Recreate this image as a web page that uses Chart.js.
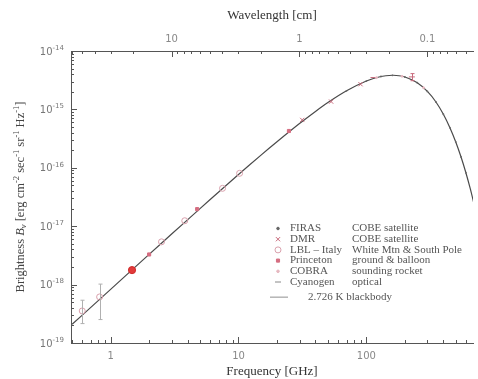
<!DOCTYPE html>
<html>
<head>
<meta charset="utf-8">
<script src="https://cdn.jsdelivr.net/npm/chart.js@4/dist/chart.umd.min.js"></script>
<style>
  html, body { margin: 0; padding: 0; background: #fff; }
</style>
</head>
<body>
<canvas id="cmbChart" width="478" height="379"></canvas>
<script>
// ============================
// data (frequency in GHz, brightness in erg cm^-2 sec^-1 sr^-1 Hz^-1)
// ============================
const bbFreq = [0.5, 0.7, 1, 1.5, 2, 3, 5, 7, 10, 15, 20, 30, 40, 50, 70, 100, 130, 160, 180, 200, 250, 300, 350, 400, 450, 500, 550, 600, 650, 700];
const bbBright = [2.09e-19, 4.08e-19, 8.30e-19, 1.86e-18, 3.29e-18, 7.34e-18, 2.00e-17, 3.86e-17, 7.66e-17, 1.65e-16, 2.79e-16, 5.72e-16, 9.23e-16, 1.31e-15, 2.08e-15, 3.06e-15, 3.66e-15, 3.84e-15, 3.77e-15, 3.59e-15, 2.86e-15, 2.03e-15, 1.34e-15, 8.26e-16, 4.87e-16, 2.77e-16, 1.53e-16, 8.23e-17, 4.34e-17, 2.25e-17];

const firasFreq = [70, 100, 130, 160, 200, 250, 300, 350, 400, 450, 500, 550, 600];
const firasBright = [2.08e-15, 3.06e-15, 3.66e-15, 3.84e-15, 3.59e-15, 2.86e-15, 2.03e-15, 1.34e-15, 8.26e-16, 4.87e-16, 2.77e-16, 1.53e-16, 8.23e-17];

const dmrFreq = [31.5, 53, 90];
const dmrBright = [6.6e-16, 1.36e-15, 2.70e-15];

const lblFreq = [0.6, 0.82, 2.5, 3.8, 7.5, 10.2];
const lblBright = [3.54e-19, 6.15e-19, 5.40e-18, 1.24e-17, 4.45e-17, 8.05e-17];
const lblErrLow = [2.15e-19, 2.52e-19, null, null, null, null];
const lblErrHigh = [5.4e-19, 1.02e-18, null, null, null, null];

const princetonFreq = [1.47, 2.0, 4.75, 24.8];
const princetonBright = [1.77e-18, 3.28e-18, 1.96e-17, 4.27e-16];

const cobraFreq = [120, 190, 280];
const cobraBright = [3.5e-15, 3.69e-15, 2.35e-15];

const cyanFreq = [113.6, 227];
const cyanBright = [3.51e-15, 3.6e-15];
const cyanErrLow = [null, 3.1e-15];
const cyanErrHigh = [null, 4.1e-15];

const freqLabels = [1, 10, 100];
const waveLabels = [10, 1, 0.1];   // cm
const yDecades = [-19, -18, -17, -16, -15, -14];

const legendNames = ["FIRAS", "DMR", "LBL – Italy", "Princeton", "COBRA", "Cyanogen"];
const legendSources = ["COBE satellite", "COBE satellite", "White Mtn & South Pole", "ground & balloon", "sounding rocket", "optical"];
const bbLabel = "2.726 K blackbody";

const C_CM_GHZ = 29.9792458;   // c in cm*GHz
const serif = "'Liberation Serif', 'DejaVu Serif', serif";
const sans = "'DejaVu Sans', sans-serif";

const pts = (xs, ys) => xs.map((x, i) => ({ x, y: ys[i] }));

// ============================
// helpers
// ============================
function drawRich(ctx, parts, x, y) {
  // parts: {t, size, dy, italic, fam}
  let total = 0;
  parts.forEach(p => {
    ctx.font = `${p.italic ? "italic " : ""}${p.size}px ${p.fam}`;
    p.w = ctx.measureText(p.t).width;
    total += p.w;
  });
  let cx = x - total / 2;
  parts.forEach(p => {
    ctx.font = `${p.italic ? "italic " : ""}${p.size}px ${p.fam}`;
    ctx.fillText(p.t, cx, y + (p.dy || 0));
    cx += p.w;
  });
}

const markerStyles = [
  { pointStyle: "circle", radius: 0.9, color: "#666", fill: "#666" },
  { pointStyle: "crossRot", radius: 3, color: "#c86a7c", fill: "#c86a7c" },
  { pointStyle: "circle", radius: 3, color: "#d9a0ac", fill: "rgba(255,255,255,0)" },
  { pointStyle: "rect", radius: 2.2, color: "#d56d80", fill: "#d56d80" },
  { pointStyle: "circle", radius: 1, color: "#e6b8c0", fill: "#e6b8c0" },
  { pointStyle: "line", radius: 3, color: "#888", fill: "#888" }
];

// ============================
// plugins
// ============================
const axisDecor = {
  id: "axisDecor",
  afterDraw(chart) {
    const { ctx, chartArea: a, scales } = chart;
    const xs = scales.x, ys = scales.y;
    ctx.save();
    ctx.strokeStyle = "#555";
    ctx.lineWidth = 1;
    ctx.beginPath();
    // bottom ticks (frequency)
    for (let e = -1; e <= 2; e++) {
      for (let d = 1; d <= 9; d++) {
        const v = d * Math.pow(10, e);
        if (v < xs.min || v > xs.max) continue;
        const px = Math.round(xs.getPixelForValue(v)) + 0.5;
        const len = d === 1 ? 6 : 3;
        ctx.moveTo(px, a.bottom);
        ctx.lineTo(px, a.bottom - len);
      }
    }
    // top ticks (wavelength)
    for (let e = -2; e <= 1; e++) {
      for (let d = 1; d <= 9; d++) {
        const f = C_CM_GHZ / (d * Math.pow(10, e));
        if (f < xs.min || f > xs.max) continue;
        const px = Math.round(xs.getPixelForValue(f)) + 0.5;
        const len = d === 1 ? 6 : 3;
        ctx.moveTo(px, a.top);
        ctx.lineTo(px, a.top + len);
      }
    }
    // left ticks (brightness)
    for (let e = -19; e <= -15; e++) {
      for (let d = 1; d <= 9; d++) {
        const v = d * Math.pow(10, e);
        const py = Math.round(ys.getPixelForValue(v)) + 0.5;
        const len = d === 1 ? 6 : 3;
        ctx.moveTo(a.left, py);
        ctx.lineTo(a.left + len, py);
      }
    }
    ctx.stroke();

    // y tick labels 10^n
    ctx.fillStyle = "#777";
    ctx.textBaseline = "middle";
    yDecades.forEach(e => {
      const py = ys.getPixelForValue(Math.pow(10, e));
      const sup = String(e);
      ctx.font = `7px ${sans}`;
      const sw = ctx.measureText(sup).width;
      ctx.font = `10px ${sans}`;
      const bw = ctx.measureText("10").width;
      const right = a.left - 7;
      ctx.fillText("10", right - sw - bw, py + 1);
      ctx.font = `7px ${sans}`;
      ctx.fillText(sup, right - sw, py - 3);
    });

    // y title
    ctx.save();
    ctx.translate(21, (a.top + a.bottom) / 2);
    ctx.rotate(-Math.PI / 2);
    ctx.fillStyle = "#444";
    const big = 12.5, small = 8.5;
    drawRich(ctx, [
      { t: "Brightness ", size: big, fam: serif },
      { t: "B", size: big, fam: serif, italic: true },
      { t: "ν", size: small, fam: serif, italic: true, dy: 3 },
      { t: " [erg cm", size: big, fam: serif },
      { t: "-2", size: small, fam: serif, dy: -4 },
      { t: " sec", size: big, fam: serif },
      { t: "-1", size: small, fam: serif, dy: -4 },
      { t: " sr", size: big, fam: serif },
      { t: "-1", size: small, fam: serif, dy: -4 },
      { t: " Hz", size: big, fam: serif },
      { t: "-1", size: small, fam: serif, dy: -4 },
      { t: "]", size: big, fam: serif }
    ], 0, 0);
    ctx.restore();
    ctx.restore();
  },
  afterDatasetsDraw(chart) {
    const { ctx, scales } = chart;
    const xs = scales.x, ys = scales.y;
    // error bars
    ctx.save();
    chart.data.datasets.forEach(ds => {
      if (!ds.errLow) return;
      ctx.strokeStyle = ds.errColor || "#aaa";
      ctx.lineWidth = 1;
      ds.data.forEach((p, i) => {
        if (ds.errLow[i] == null) return;
        const px = Math.round(xs.getPixelForValue(p.x)) + 0.5;
        const y1 = ys.getPixelForValue(ds.errLow[i]);
        const y2 = ys.getPixelForValue(ds.errHigh[i]);
        ctx.beginPath();
        ctx.moveTo(px, y1); ctx.lineTo(px, y2);
        ctx.moveTo(px - 2, y1); ctx.lineTo(px + 2, y1);
        ctx.moveTo(px - 2, y2); ctx.lineTo(px + 2, y2);
        ctx.stroke();
      });
    });
    ctx.restore();

    // legend
    ctx.save();
    const symX = 278, nameX = 290, srcX = 352, row0 = 228.5, rowH = 10.7;
    ctx.textBaseline = "middle";
    ctx.font = `11px ${serif}`;
    legendNames.forEach((name, i) => {
      const y = row0 + i * rowH;
      const m = markerStyles[i];
      ctx.strokeStyle = m.color;
      ctx.fillStyle = m.fill;
      ctx.lineWidth = 1;
      Chart.helpers.drawPoint(ctx, { pointStyle: m.pointStyle, radius: Math.max(m.radius, 1.3), rotation: 0, borderWidth: 1 }, symX, y);
      ctx.fillStyle = "#555";
      ctx.fillText(name, nameX, y);
      ctx.fillText(legendSources[i], srcX, y);
    });
    const by = row0 + 6 * rowH + 4.5;
    ctx.strokeStyle = "#b5b5b5";
    ctx.lineWidth = 1.5;
    ctx.beginPath();
    ctx.moveTo(270, by); ctx.lineTo(288, by);
    ctx.stroke();
    ctx.fillStyle = "#555";
    ctx.fillText(bbLabel, 308, by);
    ctx.restore();
  }
};

// ============================
// chart
// ============================
const markerSet = (label, xs, ys, i, extra) => Object.assign({
  label,
  data: pts(xs, ys),
  showLine: false,
  pointStyle: markerStyles[i].pointStyle,
  pointRadius: markerStyles[i].radius,
  pointBorderColor: markerStyles[i].color,
  pointBackgroundColor: markerStyles[i].fill,
  pointBorderWidth: 1,
  order: 1
}, extra || {});

new Chart(document.getElementById("cmbChart"), {
  type: "line",
  data: {
    datasets: [
      {
        label: bbLabel,
        data: pts(bbFreq, bbBright),
        borderColor: "#4a4a4a",
        borderWidth: 1.2,
        pointRadius: 0,
        tension: 0.3,
        fill: false,
        order: 10
      },
      markerSet("FIRAS", firasFreq, firasBright, 0, { pointBorderWidth: 0 }),
      markerSet("DMR", dmrFreq, dmrBright, 1),
      markerSet("LBL – Italy", lblFreq, lblBright, 2, { errLow: lblErrLow, errHigh: lblErrHigh, errColor: "#b0b0b0" }),
      markerSet("Princeton", princetonFreq, princetonBright, 3, {
        pointRadius: [3.6, 2.2, 2.2, 2.2],
        pointStyle: ["circle", "rect", "rect", "rect"],
        pointBackgroundColor: ["#e23a3a", "#d56d80", "#d56d80", "#d56d80"],
        pointBorderColor: ["#d02a2a", "#d56d80", "#d56d80", "#d56d80"]
      }),
      markerSet("COBRA", cobraFreq, cobraBright, 4),
      markerSet("Cyanogen", cyanFreq, cyanBright, 5, { errLow: cyanErrLow, errHigh: cyanErrHigh, errColor: "#c86a7c", pointBorderColor: "#c86a7c" })
    ]
  },
  options: {
    responsive: false,
    animation: false,
    layout: { padding: 0 },
    plugins: {
      legend: { display: false },
      tooltip: { enabled: false }
    },
    scales: {
      x: {
        type: "logarithmic",
        position: "bottom",
        min: 0.49,
        max: 682,
        grid: { display: false, drawTicks: false },
        border: { display: true, color: "#555", width: 1 },
        afterBuildTicks: s => { s.ticks = freqLabels.map(v => ({ value: v })); },
        afterFit: s => { s.height = 36; },
        ticks: {
          autoSkip: false,
          maxRotation: 0,
          padding: 7,
          color: "#888",
          font: { family: sans, size: 10 },
          callback: v => String(v)
        },
        title: {
          display: true,
          text: "Frequency [GHz]",
          color: "#333",
          font: { family: serif, size: 13 },
          padding: { top: 0, bottom: 0 }
        }
      },
      x2: {
        type: "logarithmic",
        position: "top",
        min: 0.49,
        max: 682,
        grid: { display: false, drawTicks: false },
        border: { display: true, color: "#555", width: 1 },
        afterBuildTicks: s => { s.ticks = waveLabels.map(l => ({ value: C_CM_GHZ / l })); },
        afterFit: s => { s.height = 51; },
        ticks: {
          autoSkip: false,
          maxRotation: 0,
          padding: 6,
          color: "#888",
          font: { family: sans, size: 10 },
          callback: v => String(Math.round(C_CM_GHZ / v * 100) / 100)
        },
        title: {
          display: true,
          text: "Wavelength [cm]",
          color: "#333",
          font: { family: serif, size: 13 },
          padding: { top: 8, bottom: 0 }
        }
      },
      y: {
        type: "logarithmic",
        position: "left",
        min: 1e-19,
        max: 1e-14,
        grid: { display: false, drawTicks: false },
        border: { display: true, color: "#555", width: 1 },
        ticks: { display: false },
        afterFit: s => { s.width = 71; }
      }
    }
  },
  plugins: [axisDecor]
});
</script>
</body>
</html>
